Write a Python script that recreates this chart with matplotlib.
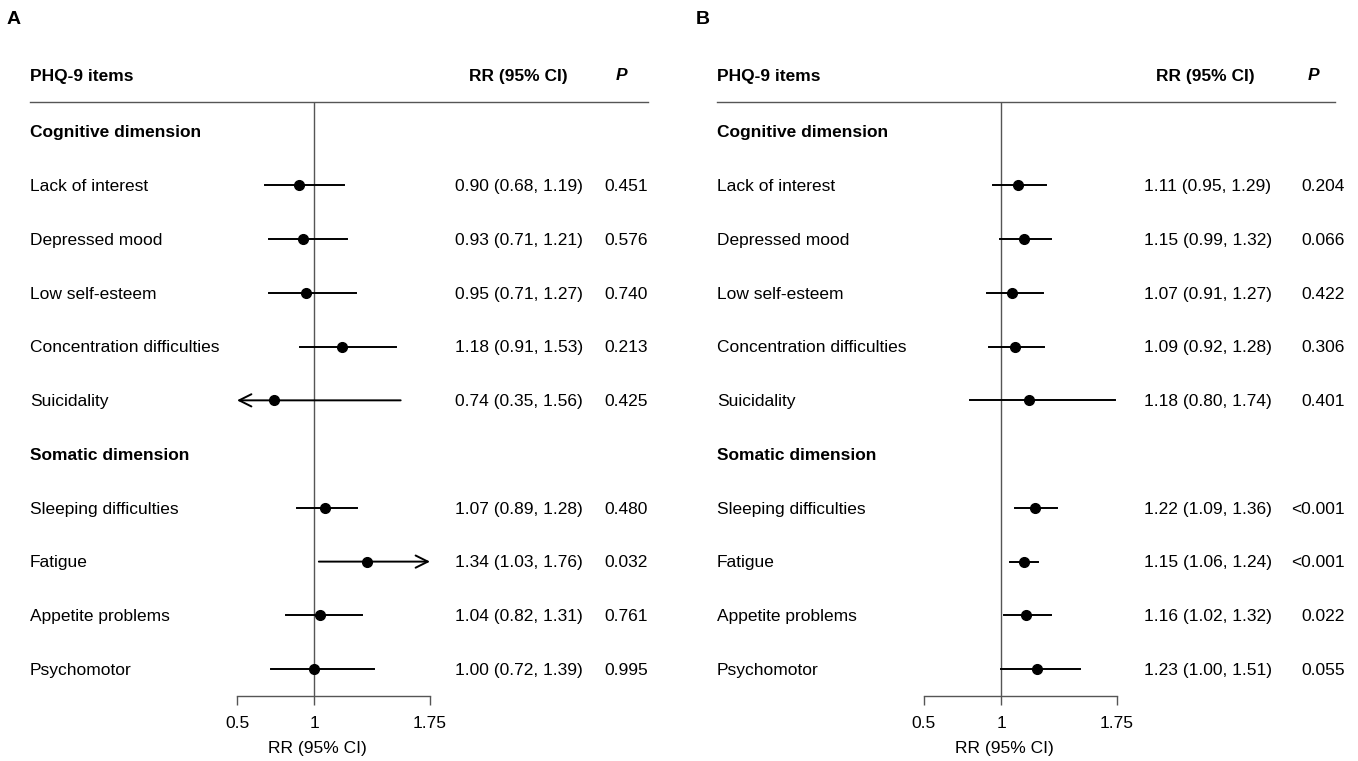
import matplotlib
matplotlib.use("Agg")
import matplotlib.pyplot as plt
from matplotlib.transforms import blended_transform_factory
from matplotlib.lines import Line2D

plt.rcParams['font.family'] = ['Liberation Sans', 'DejaVu Sans']

items = ["Cognitive dimension", "Lack of interest", "Depressed mood", "Low self-esteem",
         "Concentration difficulties", "Suicidality", "Somatic dimension",
         "Sleeping difficulties", "Fatigue", "Appetite problems", "Psychomotor"]
is_header = [True, False, False, False, False, False, True, False, False, False, False]

rr_a = [None, 0.90, 0.93, 0.95, 1.18, 0.74, None, 1.07, 1.34, 1.04, 1.00]
lo_a = [None, 0.68, 0.71, 0.71, 0.91, 0.35, None, 0.89, 1.03, 0.82, 0.72]
hi_a = [None, 1.19, 1.21, 1.27, 1.53, 1.56, None, 1.28, 1.76, 1.31, 1.39]
p_a = [None, "0.451", "0.576", "0.740", "0.213", "0.425", None, "0.480", "0.032", "0.761", "0.995"]

rr_b = [None, 1.11, 1.15, 1.07, 1.09, 1.18, None, 1.22, 1.15, 1.16, 1.23]
lo_b = [None, 0.95, 0.99, 0.91, 0.92, 0.80, None, 1.09, 1.06, 1.02, 1.00]
hi_b = [None, 1.29, 1.32, 1.27, 1.28, 1.74, None, 1.36, 1.24, 1.32, 1.51]
p_b = [None, "0.204", "0.066", "0.422", "0.306", "0.401", None, "<0.001", "<0.001", "0.022", "0.055"]

xticks = [0.5, 1, 1.75]
xticklabels = ["0.5", "1", "1.75"]

W, H = 1358, 761
fig = plt.figure(figsize=(W / 100, H / 100), dpi=100)
FS = 12.5
GRAY = "#555555"
TXT_DY = 0.025  # small nudge so text cap-centre aligns with markers

def px(x):
    return x / W

def draw_panel(letter, ax_left, ax_right, lab_x, rr_x, p_right, rrh_x, ph_x, line_r,
               rr, lo, hi, pv):
    top, bot = 102, 696
    ax = fig.add_axes([px(ax_left), 1 - bot / H, px(ax_right - ax_left), (bot - top) / H])
    xmin, xmax = xticks[0], xticks[-1]
    ax.set_xlim(xmin, xmax)
    ax.set_ylim(10.5, -0.55)
    for s in ["top", "right", "left"]:
        ax.spines[s].set_visible(False)
    ax.spines["bottom"].set_color(GRAY)
    ax.spines["bottom"].set_linewidth(1.0)
    ax.set_yticks([])
    ax.set_xticks(xticks)
    ax.set_xticklabels(xticklabels, fontsize=FS)
    ax.tick_params(axis="x", length=6.5, width=1.0, color=GRAY, pad=8)
    ax.patch.set_alpha(0)
    ax.axvline(1, color=GRAY, lw=1.0, zorder=1)

    tr = blended_transform_factory(fig.transFigure, ax.transData)
    for i, name in enumerate(items):
        ax.text(px(lab_x), i + TXT_DY, name, transform=tr, fontsize=FS, va="center", ha="left",
                fontweight="bold" if is_header[i] else "normal")
        if rr[i] is None:
            continue
        ax.text(px(rr_x), i + TXT_DY, f"{rr[i]:.2f} ({lo[i]:.2f}, {hi[i]:.2f})", transform=tr,
                fontsize=FS, va="center", ha="left")
        ax.text(px(p_right), i + TXT_DY, pv[i], transform=tr, fontsize=FS, va="center", ha="right")
        l, h = lo[i], hi[i]
        if l < xmin:
            ax.annotate("", xy=(xmin, i), xytext=(min(h, xmax), i),
                        arrowprops=dict(arrowstyle="->", lw=1.4, color="black",
                                        shrinkA=0, shrinkB=0, mutation_scale=22),
                        annotation_clip=False)
        elif h > xmax:
            ax.annotate("", xy=(xmax, i), xytext=(l, i),
                        arrowprops=dict(arrowstyle="->", lw=1.4, color="black",
                                        shrinkA=0, shrinkB=0, mutation_scale=22),
                        annotation_clip=False)
        else:
            ax.plot([l, h], [i, i], color="black", lw=1.4, zorder=3)
        ax.plot([rr[i]], [i], "o", color="black", ms=7, zorder=4)

    # header row
    hy = 1 - 76 / H
    fig.text(px(lab_x), hy, "PHQ-9 items", fontsize=FS, fontweight="bold",
             va="center", ha="left")
    fig.text(px(rrh_x), hy, "RR (95% CI)", fontsize=FS, fontweight="bold",
             va="center", ha="left")
    fig.text(px(ph_x), hy, "P", fontsize=FS, fontweight="bold", style="italic",
             va="center", ha="center")
    fig.add_artist(Line2D([px(lab_x), px(line_r)], [1 - top / H, 1 - top / H],
                          color=GRAY, lw=1.0))
    # x label
    trx = blended_transform_factory(ax.transData, fig.transFigure)
    ax.text(1.02, 1 - 748 / H, "RR (95% CI)", transform=trx, fontsize=FS,
            ha="center", va="center")
    fig.text(px(ax_left - 230 if letter == "A" else ax_left - 228), 1 - 20 / H, letter,
             fontsize=14, fontweight="bold", va="center", ha="left")

draw_panel("A", 237, 430, 30, 455.5, 648, 469, 622, 648, rr_a, lo_a, hi_a, p_a)
draw_panel("B", 924, 1117, 717, 1143.5, 1345, 1156, 1313, 1335, rr_b, lo_b, hi_b, p_b)

fig.savefig("out.png", dpi=100)
